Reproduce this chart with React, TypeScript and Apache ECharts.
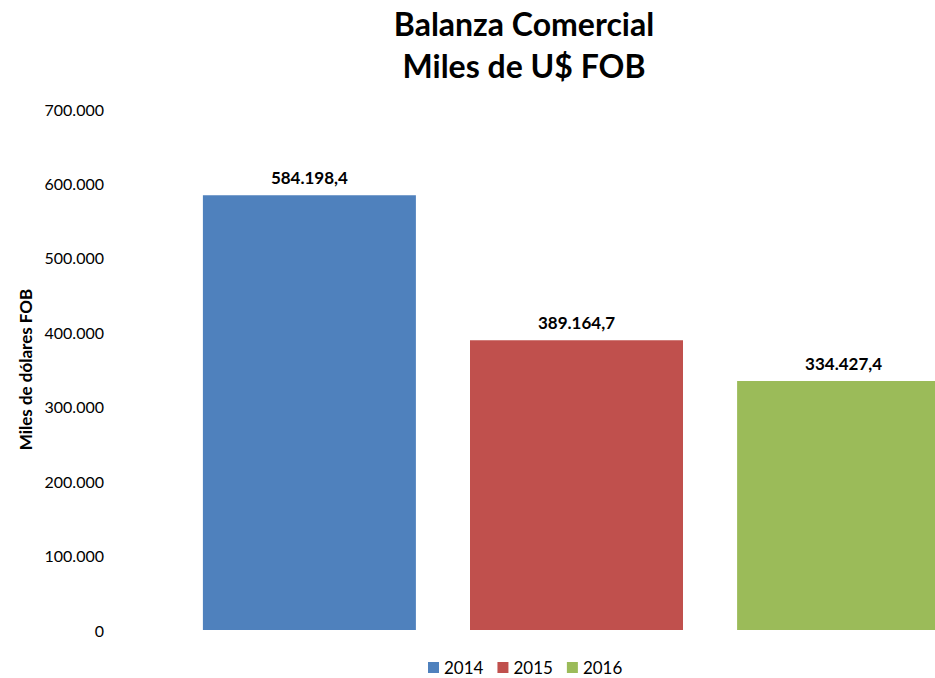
import React, { useEffect, useRef } from "react";
import * as echarts from "echarts";

const years = ["2014", "2015", "2016"];
const values = [584198.4, 389164.7, 334427.4];
const colors = ["#4F81BD", "#C0504D", "#9BBB59"];
const categories = ["Balanza"];

const FONT = "Lato, 'Open Sans', sans-serif";

function fmtEs(v: number, decimals: number): string {
  const fixed = v.toFixed(decimals);
  const [intPart, dec] = fixed.split(".");
  const withDots = intPart.replace(/\B(?=(\d{3})+(?!\d))/g, ".");
  return dec !== undefined ? withDots + "," + dec : withDots;
}

export default function App() {
  const ref = useRef<HTMLDivElement>(null);
  useEffect(() => {
    if (!ref.current) return;
    const chart = echarts.init(ref.current, undefined, { renderer: "svg" });
    chart.setOption({
      animation: false,
      backgroundColor: "#ffffff",
      textStyle: { fontFamily: FONT },
      title: {
        text: "Balanza Comercial\nMiles de U$ FOB",
        left: 519,
        textAlign: "center",
        top: -3,
        textStyle: {
          fontFamily: FONT,
          fontSize: 32,
          fontWeight: "bold",
          color: "#000",
          lineHeight: 42,
        },
      },
      legend: {
        bottom: -3,
        left: 423,
        itemWidth: 11,
        itemHeight: 11,
        itemGap: 14,
        icon: "rect",
        data: years,
        textStyle: { fontFamily: FONT, fontSize: 17, color: "#000" },
      },
      grid: { left: 112, top: 109, width: 929, height: 521 },
      xAxis: {
        type: "category",
        data: categories,
        axisLine: { show: false },
        axisTick: { show: false },
        axisLabel: { show: false },
      },
      yAxis: {
        type: "value",
        min: 0,
        max: 700000,
        interval: 100000,
        name: "Miles de dólares FOB",
        nameLocation: "middle",
        nameGap: 77,
        nameTextStyle: { fontFamily: FONT, fontSize: 17, fontWeight: "bold", color: "#000" },
        axisLine: { show: false },
        axisTick: { show: false },
        splitLine: { show: false },
        axisLabel: {
          margin: 8,
          fontFamily: FONT,
          fontSize: 16,
          color: "#000",
          formatter: (v: number) => fmtEs(v, 0),
        },
      },
      series: years.map((y, i) => ({
        name: y,
        type: "bar",
        data: [values[i]],
        barWidth: 213,
        barGap: "25.4%",
        itemStyle: { color: colors[i] },
        label: {
          show: true,
          position: "top",
          distance: 9,
          fontFamily: FONT,
          fontSize: 17,
          fontWeight: "bold",
          color: "#000",
          formatter: (p: any) => fmtEs(p.value, 1),
        },
      })),
    });
    return () => chart.dispose();
  }, []);
  return (
    <div
      style={{
        position: "absolute",
        left: 0,
        top: 0,
        width: 935,
        height: 678,
        overflow: "hidden",
        background: "#fff",
      }}
    >
      <div ref={ref} style={{ width: 1100, height: 678 }} />
    </div>
  );
}
